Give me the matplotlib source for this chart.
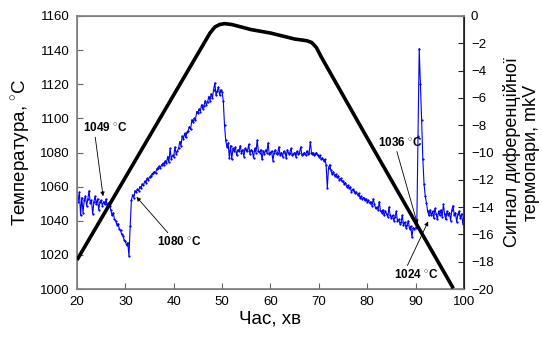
import numpy as np
from matplotlib import pyplot as plt

plt.rcParams['font.family'] = ['Liberation Sans', 'DejaVu Sans']
plt.rcParams['mathtext.fontset'] = 'custom'
plt.rcParams['mathtext.rm'] = 'Liberation Sans'

# температура печі (°C)
time_temp = [20, 47.5, 48.5, 49.5, 50.5, 52, 54, 56, 60, 65, 67.5, 68.5, 69.5, 70.5, 80, 90, 97.8]
temp = [1017, 1150, 1153.5, 1155, 1155.5, 1155, 1153.5, 1152, 1150, 1146.5, 1145.5, 1144.5, 1141.5, 1136,
        1088.5, 1039, 1000.4]

# сигнал диференційної термопари (mkV), крок 0.25 хв від 20 до 100
time_dta = np.linspace(20, 100, 321)
dta = [
    -13.1, -13.6, -12.9, -14.6, -13.3, -14.4, -13.5, -13.2, -13.9, -13.4, -12.8, -13.7, -13.5, -14.5, -13.6, -13.2, -13.8, -13.4, -14.2, -13.6,
    -13.5, -13.9, -13.6, -13.8, -13.4, -14.0, -13.7, -13.9, -14.2, -14.6, -14.4, -14.9, -15.0, -15.3, -15.2, -15.6, -15.7, -16.0, -16.1, -16.4,
    -16.5, -16.8, -16.6, -17.6, -15.4, -13.5, -13.1, -13.3, -12.8, -12.9, -12.7, -12.8, -12.5, -12.6, -12.3, -12.4, -12.1, -12.2, -11.9, -12.0,
    -11.8, -11.7, -11.6, -11.5, -11.4, -11.5, -11.2, -11.1, -11.0, -11.1, -10.9, -10.8, -10.9, -10.6, -10.8, -10.3, -10.7, -9.7, -10.5, -10.2,
    -10.3, -9.6, -10.1, -9.9, -9.7, -9.2, -9.5, -8.8, -9.0, -8.6, -8.9, -8.5, -8.4, -8.1, -8.3, -7.6, -7.8, -7.5, -7.6, -7.0,
    -7.1, -6.8, -7.0, -6.5, -6.8, -6.6, -6.2, -6.5, -6.3, -5.9, -6.2, -5.7, -6.0, -5.4, -4.9, -5.8, -5.5, -5.2, -5.8, -5.4,
    -5.6, -6.2, -8.0, -9.1, -9.6, -9.3, -10.4, -9.5, -10.5, -9.7, -9.9, -9.6, -10.2, -9.8, -9.9, -9.5, -10.0, -9.8, -10.3, -9.7,
    -9.8, -9.9, -9.4, -10.1, -9.8, -9.9, -10.4, -9.7, -10.0, -9.1, -9.9, -10.0, -9.8, -10.5, -9.9, -10.1, -9.8, -10.0, -9.3, -10.1,
    -10.0, -9.9, -10.6, -10.0, -9.8, -10.1, -10.0, -9.6, -10.2, -10.0, -10.3, -9.9, -10.0, -10.4, -9.8, -10.1, -10.0, -9.7, -10.2, -10.1,
    -10.0, -10.3, -9.9, -10.1, -10.0, -9.6, -10.2, -10.1, -10.0, -10.2, -9.9, -10.1, -10.0, -9.2, -10.1, -10.0, -10.2, -10.1, -10.0, -10.2,
    -10.3, -10.2, -10.5, -10.4, -10.6, -10.5, -10.9, -12.6, -11.1, -10.9, -11.3, -11.6, -11.4, -11.7, -11.6, -11.8, -11.7, -12.0, -11.9, -12.1,
    -12.1, -12.3, -12.2, -12.5, -12.4, -12.6, -12.5, -12.9, -12.7, -12.8, -13.0, -12.9, -13.1, -13.0, -13.3, -13.2, -13.4, -13.3, -13.5, -13.4,
    -13.6, -13.5, -13.7, -13.6, -13.9, -13.4, -13.8, -14.1, -14.0, -14.2, -13.6, -14.3, -14.4, -14.2, -14.6, -14.3, -14.5, -14.7, -14.0, -14.6,
    -14.8, -14.6, -15.0, -14.7, -14.3, -15.0, -14.9, -15.2, -15.1, -14.6, -15.3, -15.1, -15.5, -15.3, -15.0, -15.6, -15.4, -16.2, -15.5, -15.6,
    -15.5, -15.4, -8.8, -2.4, -5.0, -7.6, -10.5, -12.3, -13.2, -13.7, -14.3, -14.6, -14.2, -14.6, -14.3, -14.8, -14.1, -14.5, -14.9, -14.3,
    -14.6, -14.2, -14.7, -13.8, -14.5, -14.9, -14.3, -14.6, -14.4, -15.0, -14.2, -13.9, -14.6, -14.4, -15.1, -14.5, -14.3, -14.8, -14.5, -15.2,
    -14.7,
]

# підписи точок: (текст, точка на кривій, положення тексту, relpos)
labels = ['1049', '1080', '1036', '1024']
label_xy = [(25.4, -13.2), (32.3, -13.25), (90.4, -15.25), (92.6, -15.05)]
label_text_xy = [(25.8, -8.2), (41.2, -16.55), (86.7, -9.25), (90.15, -18.95)]
label_relpos = [(0.27, 0.0), (0.29, 1.0), (0.42, 0.0), (0.27, 1.0)]

fig = plt.figure(figsize=(5.42, 3.47), dpi=100)
ax = fig.add_axes([0.142, 0.167, 0.714, 0.787])
ax2 = ax.twinx()

ax.plot(time_temp, temp, color='black', lw=2.6, solid_capstyle='butt', zorder=3)
ax.set_xlim(20, 100)
ax.set_ylim(1000, 1160)
ax.set_xticks(range(20, 101, 10))
ax.set_yticks(range(1000, 1161, 20))
ax.set_xlabel('Час, хв', fontsize=13.5, labelpad=2)
ax.set_ylabel('Температура, $^{\\circ}$C', fontsize=13.5, labelpad=6)
ax.tick_params(direction='in', labelsize=9.5, length=4, color='#666666', pad=5)

ax2.plot(time_dta, dta, color='#0000ff', lw=0.8, marker='s', markersize=0.6, zorder=2)
ax2.set_ylim(-20, 0)
ax2.set_yticks(range(-20, 1, 2))
ax2.set_ylabel('Сигнал диференційної\nтермопари, mkV', fontsize=13, labelpad=7, linespacing=1.1)
ax2.tick_params(direction='in', labelsize=9.5, length=4, color='#222222', pad=5)

for s in ['left', 'top', 'bottom']:
    ax2.spines[s].set_color('#808080')
    ax.spines[s].set_color('#808080')
ax2.spines['right'].set_color('#222222')
ax.spines['right'].set_color('#222222')
for s in ax2.spines.values():
    s.set_linewidth(1.2)

ax.set_zorder(ax2.get_zorder() + 1)
ax.patch.set_visible(False)

for lab, xy, txy, rp in zip(labels, label_xy, label_text_xy, label_relpos):
    ax2.annotate(lab + ' $^{\\circ}$C', xy=xy, xytext=txy, ha='center', va='center',
                 fontsize=8.5, fontweight='bold',
                 arrowprops=dict(arrowstyle='-|>', color='black', lw=0.6, mutation_scale=6,
                                 relpos=rp, shrinkA=0, shrinkB=0))

fig.savefig('out.png', dpi=100)
